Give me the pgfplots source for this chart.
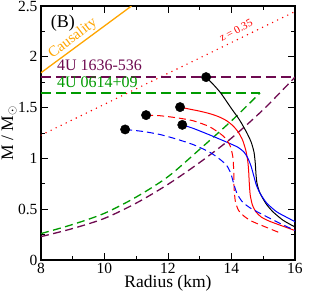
\documentclass[border=0pt]{standalone}
\usepackage{fontspec}
\setmainfont{Liberation Serif}
\usepackage{pgfplots}
\pgfplotsset{compat=1.18}
\definecolor{maroonG}{RGB}{110,10,80}
\definecolor{greenG}{RGB}{0,155,0}
\definecolor{orangeG}{RGB}{255,165,0}
\begin{document}
\begin{tikzpicture}
\begin{axis}[
  scale only axis, width=254pt, height=254pt,
  xmin=8, xmax=16, ymin=0, ymax=2.5,
  xtick={8,10,12,14,16}, ytick={0,0.5,1,1.5,2,2.5},
  minor x tick num=1, minor y tick num=1,
  tick align=inside, major tick length=7pt, minor tick length=4pt,
  axis line style={line width=1.3pt},
  every tick/.style={black, line width=0.8pt},
  /pgf/number format/assume math mode=true,
  ticklabel style={font=\fontsize{15.5}{15.5}\selectfont},
  xlabel={Radius (km)}, ylabel={M / M$_\odot$},
  label style={font=\fontsize{17.5}{17.5}\selectfont, inner sep=0pt},
  xlabel style={at={(axis description cs:0.5,-0.110)}, anchor=base},
  ylabel style={at={(axis description cs:-0.110,0.5)}, anchor=base},
  clip=true,
]
% causality
\addplot[orangeG, line width=1.3pt] coordinates {(8,1.843) (10.85,2.5)};
% z = 0.35
\addplot[red, line width=1.6pt, line cap=round, dash pattern=on 0pt off 5.6pt] coordinates {(8,1.229) (16,2.445)};
% 4U 1636-536
\addplot[maroonG, line width=1.3pt, dash pattern=on 10pt off 5pt] coordinates {(8,1.80) (16,1.80)};
\addplot[maroonG, line width=1.3pt, dash pattern=on 8pt off 4.5pt, smooth] coordinates {(8,0.23)(9,0.31)(10,0.41)(11,0.56)(12,0.745)(13,0.96)(14,1.2)(15,1.48)(16,1.8)};
% 4U 0614+09
\addplot[greenG, line width=1.3pt, dash pattern=on 10pt off 5pt] coordinates {(8,1.645) (14.9,1.645)};
\addplot[greenG, line width=1.3pt, dash pattern=on 8pt off 4.5pt, smooth] coordinates {(8,0.26)(9,0.35)(10,0.46)(11,0.62)(12,0.82)(13,1.09)(14,1.37)(14.9,1.645)};
% EOS curves
\addplot[black, line width=1pt, smooth, tension=0.4] coordinates {(13.2,1.80)(13.45,1.72)(13.67,1.64)(14.0,1.49)(14.25,1.38)(14.47,1.26)(14.62,1.16)(14.71,1.06)(14.75,0.95)(14.77,0.85)(14.80,0.76)(14.87,0.68)(14.98,0.61)(15.12,0.54)(15.32,0.47)(15.63,0.39)(16,0.325)};
\addplot[red, line width=1pt, smooth, tension=0.4] coordinates {(12.38,1.505)(12.6,1.49)(13.0,1.465)(13.32,1.44)(13.6,1.41)(13.85,1.37)(14.05,1.32)(14.21,1.26)(14.35,1.18)(14.45,1.08)(14.51,0.98)(14.54,0.88)(14.56,0.76)(14.59,0.64)(14.66,0.54)(14.78,0.47)(14.95,0.42)(15.21,0.38)(15.6,0.335)(16,0.29)};
\addplot[blue, line width=1pt, smooth, tension=0.4] coordinates {(12.45,1.33)(12.8,1.295)(13.32,1.23)(13.85,1.16)(14.2,1.11)(14.4,1.06)(14.52,1.0)(14.62,0.92)(14.7,0.83)(14.78,0.74)(14.9,0.656)(15.11,0.56)(15.42,0.475)(15.74,0.42)(16,0.377)};
\addplot[red, line width=1pt, dash pattern=on 7pt off 4pt, smooth, tension=0.4] coordinates {(11.31,1.426)(11.75,1.42)(12.27,1.40)(12.8,1.37)(13.32,1.31)(13.74,1.22)(13.95,1.13)(14.04,1.02)(14.07,0.88)(14.08,0.72)(14.12,0.58)(14.22,0.49)(14.4,0.43)(14.65,0.38)(15.11,0.32)(15.58,0.26)};
\addplot[blue, line width=1pt, dash pattern=on 7pt off 4pt, smooth, tension=0.4] coordinates {(10.65,1.285)(11.22,1.265)(11.75,1.235)(12.27,1.19)(12.8,1.135)(13.32,1.06)(13.64,0.99)(13.85,0.93)(13.98,0.85)(14.08,0.74)(14.18,0.65)(14.35,0.57)(14.6,0.51)(14.9,0.46)(15.42,0.377)(16,0.29)};
% maximum-mass dots
\addplot[only marks, mark=*, mark size=4.7pt, black] coordinates {(13.2,1.80)(12.38,1.505)(12.45,1.33)(11.31,1.426)(10.65,1.285)};
% labels
\node[font=\fontsize{18}{18}\selectfont] at (axis cs:8.69,2.33) {(B)};
\node[orangeG, rotate=37.5, anchor=south, inner sep=1.5pt, font=\fontsize{15}{15}\selectfont] at (axis cs:9.17,2.113) {Causality};
\node[red, rotate=28, font=\fontsize{11}{11}\selectfont] at (axis cs:14.14,2.26) {z = 0.35};
\node[maroonG, anchor=west, font=\fontsize{16}{16}\selectfont, inner sep=0pt] at (axis cs:8.5,1.92) {4U 1636-536};
\node[greenG, anchor=west, font=\fontsize{16}{16}\selectfont, inner sep=0pt] at (axis cs:8.5,1.745) {4U 0614+09};
\end{axis}
\pgfresetboundingbox
\path (current axis.south west) ++(-41pt,-35pt) rectangle ++(322pt,295pt);
\end{tikzpicture}
\end{document}
